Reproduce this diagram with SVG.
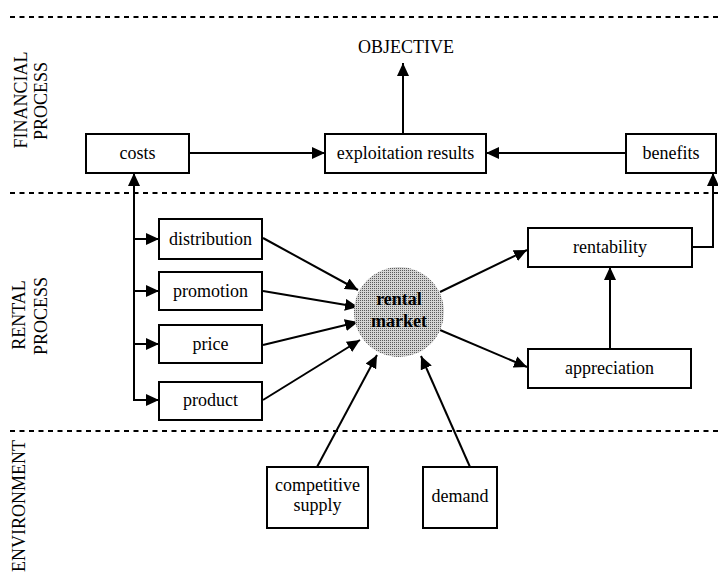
<svg xmlns="http://www.w3.org/2000/svg" width="718" height="578" viewBox="0 0 718 578">
<style>
  .box { fill: #fff; stroke: #000; stroke-width: 2; }
  .t { font-family: "Liberation Serif", "Times New Roman", serif; font-size: 18px; fill: #000; text-anchor: middle; }
  .tb { font-family: "Liberation Serif", "Times New Roman", serif; font-size: 18px; font-weight: bold; fill: #000; text-anchor: middle; }
  .dash { stroke: #000; stroke-width: 2; stroke-dasharray: 5 4.5; fill: none; }
  .ln { stroke: #000; stroke-width: 2; fill: none; }
  .arr { stroke: #000; stroke-width: 2; fill: none; marker-end: url(#ah); }
</style>
<defs>
  <marker id="ah" markerUnits="userSpaceOnUse" markerWidth="14" markerHeight="12" refX="13" refY="6" orient="auto">
    <path d="M0,0 L13,6 L0,12 z" fill="#000"/>
  </marker>
  <pattern id="stip" width="2" height="2" patternUnits="userSpaceOnUse">
    <rect width="2" height="2" fill="#d4d4d4"/>
    <rect width="1" height="1" fill="#5a5a5a"/>
  </pattern>
</defs>
<rect width="718" height="578" fill="#fff"/>

<g id="bands">
  <line class="dash" x1="10" y1="17" x2="718" y2="17"/>
  <line class="dash" x1="10" y1="193" x2="718" y2="193"/>
  <line class="dash" x1="10" y1="431" x2="718" y2="431"/>
  <text class="t" x="27" y="100" transform="rotate(-90 27 100)">FINANCIAL</text>
  <text class="t" x="47" y="101" transform="rotate(-90 47 101)">PROCESS</text>
  <text class="t" x="25" y="315" transform="rotate(-90 25 315)">RENTAL</text>
  <text class="t" x="47" y="316" transform="rotate(-90 47 316)">PROCESS</text>
  <text class="t" x="25" y="506" transform="rotate(-90 25 506)">ENVIRONMENT</text>
</g>

<g id="connectors">
  <line class="arr" x1="403" y1="134" x2="403" y2="63"/>
  <line class="arr" x1="189" y1="153" x2="325" y2="153"/>
  <line class="arr" x1="626" y1="153" x2="486" y2="153"/>
  <line class="ln" x1="134" y1="182" x2="134" y2="401"/>
  <line class="arr" x1="134" y1="205" x2="134" y2="173"/>
  <line class="arr" x1="133" y1="239" x2="159" y2="239"/>
  <line class="arr" x1="133" y1="291" x2="159" y2="291"/>
  <line class="arr" x1="133" y1="344" x2="159" y2="344"/>
  <line class="arr" x1="133" y1="400" x2="159" y2="400"/>
  <line class="arr" x1="263" y1="238" x2="358" y2="290"/>
  <line class="arr" x1="263" y1="291" x2="358" y2="307"/>
  <line class="arr" x1="263" y1="345" x2="358" y2="322"/>
  <line class="arr" x1="263" y1="400" x2="360" y2="340"/>
  <line class="arr" x1="440" y1="292" x2="527" y2="250"/>
  <line class="arr" x1="440" y1="330" x2="527" y2="367"/>
  <line class="arr" x1="610" y1="349" x2="610" y2="267"/>
  <polyline class="ln" points="692,247 713,247 713,190"/>
  <line class="arr" x1="713" y1="200" x2="713" y2="173"/>
  <line class="arr" x1="317" y1="467" x2="377" y2="355"/>
  <line class="arr" x1="470" y1="467" x2="421" y2="356"/>
</g>

<g id="objective">
  <text class="t" x="406" y="53">OBJECTIVE</text>
</g>
<g id="costs">
  <rect class="box" x="86" y="134" width="103" height="39"/>
  <text class="t" x="137.5" y="159">costs</text>
</g>
<g id="exploitation">
  <rect class="box" x="325" y="134" width="161" height="39"/>
  <text class="t" x="405.5" y="159">exploitation results</text>
</g>
<g id="benefits">
  <rect class="box" x="626" y="134" width="90" height="39"/>
  <text class="t" x="671" y="159">benefits</text>
</g>
<g id="distribution">
  <rect class="box" x="159" y="219" width="103" height="40"/>
  <text class="t" x="210.5" y="245">distribution</text>
</g>
<g id="promotion">
  <rect class="box" x="159" y="272" width="103" height="38"/>
  <text class="t" x="210.5" y="297">promotion</text>
</g>
<g id="price">
  <rect class="box" x="159" y="325" width="103" height="38"/>
  <text class="t" x="210.5" y="350">price</text>
</g>
<g id="product">
  <rect class="box" x="159" y="382" width="103" height="38"/>
  <text class="t" x="210.5" y="406">product</text>
</g>
<g id="rental-market">
  <circle cx="399" cy="312" r="45" fill="url(#stip)"/>
  <text class="tb" x="399" y="305">rental</text>
  <text class="tb" x="399" y="327">market</text>
</g>
<g id="rentability">
  <rect class="box" x="528" y="228" width="164" height="39"/>
  <text class="t" x="610" y="253">rentability</text>
</g>
<g id="appreciation">
  <rect class="box" x="528" y="349" width="163" height="39"/>
  <text class="t" x="609.5" y="374">appreciation</text>
</g>
<g id="competitive-supply">
  <rect class="box" x="267" y="467" width="101" height="61"/>
  <text class="t" x="317.5" y="491">competitive</text>
  <text class="t" x="317.5" y="511">supply</text>
</g>
<g id="demand">
  <rect class="box" x="423" y="467" width="74" height="61"/>
  <text class="t" x="460" y="502">demand</text>
</g>
</svg>
